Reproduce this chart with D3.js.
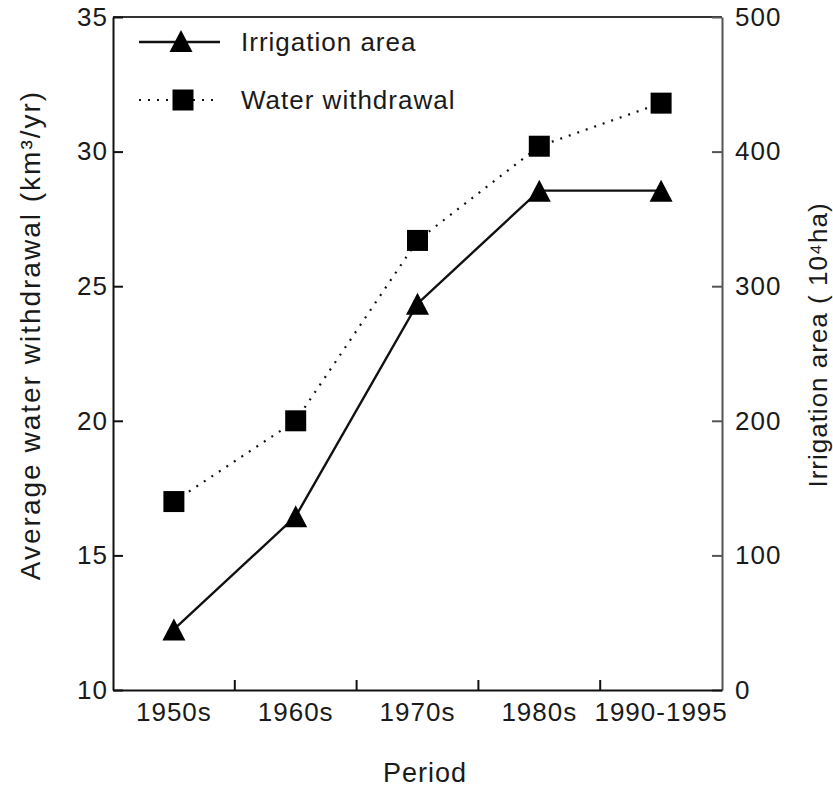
<!DOCTYPE html>
<html>
<head>
<meta charset="utf-8">
<script src="https://cdn.jsdelivr.net/npm/d3@7"></script>
<style>
  html, body { margin: 0; padding: 0; background: #fff; }
  svg { display: block; font-family: "Liberation Sans", Arial, sans-serif; }
</style>
</head>
<body>
<svg id="chart" width="833" height="788"></svg>
<script>
// Periods on the x axis
const periods = ["1950s", "1960s", "1970s", "1980s", "1990-1995"];
// Average water withdrawal, km³/yr (left axis)
const waterWithdrawal = [17.0, 20.0, 26.7, 30.2, 31.8];
// Irrigation area, 10⁴ ha (right axis)
const irrigationArea = [45, 129, 287, 371, 371];
// Tick values
const leftTicks = [10, 15, 20, 25, 30, 35];
const rightTicks = [0, 100, 200, 300, 400, 500];

const svg = d3.select("#chart");
const plot = { left: 113, right: 722, top: 17, bottom: 690 };
const ink = "#1a1a1a";
const fontSize = 26;
const tracking = "1px";

const x = d3.scaleBand().domain(periods).range([plot.left, plot.right]).padding(0);
const yL = d3.scaleLinear().domain([10, 35]).range([plot.bottom, plot.top]);
const yR = d3.scaleLinear().domain([0, 500]).range([plot.bottom, plot.top]);
const cx = p => x(p) + x.bandwidth() / 2;

// frame line on top
svg.append("line")
  .attr("x1", plot.left).attr("x2", plot.right)
  .attr("y1", plot.top).attr("y2", plot.top)
  .attr("stroke", "#333").attr("stroke-width", 2);

// left axis
const gL = svg.append("g").attr("transform", `translate(${plot.left},0)`)
  .call(d3.axisLeft(yL).tickValues(leftTicks).tickSizeInner(-10).tickSizeOuter(0).tickPadding(5));
// right axis
const gR = svg.append("g").attr("transform", `translate(${plot.right},0)`)
  .call(d3.axisRight(yR).tickValues(rightTicks).tickSizeInner(-10).tickSizeOuter(0).tickPadding(13));
// bottom axis: ticks at the band boundaries
const gB = svg.append("g").attr("transform", `translate(0,${plot.bottom})`)
  .call(d3.axisBottom(x).tickSize(0).tickPadding(13));
gB.selectAll(".bound")
  .data(periods.slice(1))
  .enter().append("line")
  .attr("class", "bound")
  .attr("x1", d => x(d)).attr("x2", d => x(d))
  .attr("y1", 0).attr("y2", -10)
  .attr("stroke", "#111").attr("stroke-width", 2);

[gL, gR, gB].forEach(g => {
  g.select(".domain").attr("stroke", "#111").attr("stroke-width", 2);
  g.selectAll(".tick line").attr("stroke", "#111").attr("stroke-width", 2);
  g.selectAll("text").attr("font-size", fontSize).attr("fill", ink)
    .attr("letter-spacing", tracking)
    .attr("font-family", "'Liberation Sans', Arial, sans-serif");
});
gR.select(".domain").attr("stroke", "#555");
gR.selectAll(".tick line").attr("stroke", "#555");
gB.selectAll(".tick text").attr("dy", "0.71em");

// axis titles
svg.append("text")
  .attr("transform", "translate(30,335) rotate(-90)")
  .attr("text-anchor", "middle").attr("dominant-baseline", "central")
  .attr("font-size", 28).attr("letter-spacing", "2px").attr("fill", ink)
  .text("Average water withdrawal (km³/yr)");
svg.append("text")
  .attr("transform", "translate(818,345) rotate(-90)")
  .attr("text-anchor", "middle").attr("dominant-baseline", "central")
  .attr("font-size", fontSize).attr("letter-spacing", tracking).attr("fill", ink)
  .text("Irrigation area ( 10⁴ha)");
svg.append("text")
  .attr("x", 425).attr("y", 782)
  .attr("text-anchor", "middle")
  .attr("font-size", 27).attr("letter-spacing", tracking).attr("fill", ink)
  .text("Period");

// marker shapes
const triPath = (w, h) => `M0,${-h / 2}L${w / 2},${h / 2}L${-w / 2},${h / 2}Z`;
const sqSize = 21;

// water withdrawal: dotted line with squares
const waterLine = d3.line().x((d, i) => cx(periods[i])).y(d => yL(d));
svg.append("path").datum(waterWithdrawal)
  .attr("d", waterLine).attr("fill", "none")
  .attr("stroke", "#111").attr("stroke-width", 2.2)
  .attr("stroke-dasharray", "2,7").attr("stroke-linecap", "butt");

// irrigation area: solid line with triangles
const irrLine = d3.line().x((d, i) => cx(periods[i])).y(d => yR(d));
svg.append("path").datum(irrigationArea)
  .attr("d", irrLine).attr("fill", "none")
  .attr("stroke", "#111").attr("stroke-width", 2.4);

svg.selectAll(".sq").data(waterWithdrawal).enter().append("rect")
  .attr("class", "sq")
  .attr("x", (d, i) => cx(periods[i]) - sqSize / 2)
  .attr("y", d => yL(d) - sqSize / 2)
  .attr("width", sqSize).attr("height", sqSize)
  .attr("fill", "#000");

svg.selectAll(".tri").data(irrigationArea).enter().append("path")
  .attr("class", "tri")
  .attr("transform", (d, i) => `translate(${cx(periods[i])},${yR(d)})`)
  .attr("d", triPath(23, 22))
  .attr("fill", "#000");

// legend
const legend = svg.append("g").attr("transform", "translate(139,0)");
const legendItems = [
  { label: "Irrigation area", y: 42, solid: true },
  { label: "Water withdrawal", y: 100, solid: false }
];
legendItems.forEach(it => {
  legend.append("line")
    .attr("x1", 0).attr("x2", 81).attr("y1", it.y).attr("y2", it.y)
    .attr("stroke", "#111")
    .attr("stroke-width", it.solid ? 2.4 : 2.2)
    .attr("stroke-dasharray", it.solid ? null : "2,7");
  if (it.solid) {
    legend.append("path")
      .attr("transform", `translate(42,${it.y - 1})`)
      .attr("d", triPath(23, 22)).attr("fill", "#000");
  } else {
    legend.append("rect")
      .attr("x", 44 - sqSize / 2).attr("y", it.y - sqSize / 2)
      .attr("width", sqSize).attr("height", sqSize).attr("fill", "#000");
  }
  legend.append("text")
    .attr("x", 102).attr("y", it.y).attr("dy", "0.35em")
    .attr("font-size", fontSize).attr("letter-spacing", tracking).attr("fill", ink)
    .text(it.label);
});
</script>
</body>
</html>
